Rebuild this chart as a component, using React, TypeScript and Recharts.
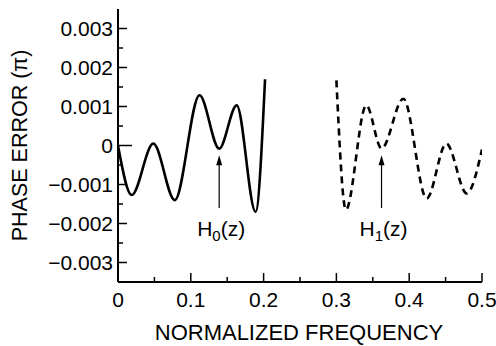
import React from 'react';
import { LineChart, Line, XAxis, YAxis, ReferenceLine } from 'recharts';

// H0(z) phase error (solid)
const h0Freq = [0, 0.0188, 0.0485, 0.078, 0.112, 0.139, 0.163, 0.189, 0.202];
const h0Err = [0, -0.00127, 0.00005, -0.0014, 0.00129, -0.00008, 0.00103, -0.0017, 0.0017];
// H1(z) phase error (dashed)
const h1Freq = [0.3, 0.313, 0.341, 0.362, 0.392, 0.424, 0.451, 0.479, 0.5];
const h1Err = [0.00167, -0.00165, 0.00103, -0.00008, 0.0012, -0.00136, 0.00005, -0.00123, -0.0001];

const xMajorTicks = [0, 0.1, 0.2, 0.3, 0.4, 0.5];
const xTickLabels = ['0', '0.1', '0.2', '0.3', '0.4', '0.5'];
const xMinorTicks = [0.05, 0.15, 0.25, 0.35, 0.45];
const yMajorTicks = [-0.003, -0.002, -0.001, 0, 0.001, 0.002, 0.003];
const yTickLabels = ['\u22120.003', '\u22120.002', '\u22120.001', '0', '0.001', '0.002', '0.003'];
const yMinorTicks = [-0.0025, -0.0015, -0.0005, 0.0005, 0.0015, 0.0025];

// arrow annotations
const arrowFreq = [0.139, 0.362];
const arrowTailErr = [-0.0016, -0.0016];
const arrowHeadErr = [-0.00025, -0.00025];
const arrowSub = ['0', '1'];

const FONT = '"Liberation Sans", Arial, Helvetica, sans-serif';

const h0Data = h0Freq.map((f, i) => ({ f, e: h0Err[i] }));
const h1Data = h1Freq.map((f, i) => ({ f, e: h1Err[i] }));
const xAllTicks = [...xMajorTicks, ...xMinorTicks].sort((a, b) => a - b);
const yAllTicks = [...yMajorTicks, ...yMinorTicks].sort((a, b) => a - b);

const idxOf = (arr: number[], v: number) => arr.findIndex((t) => Math.abs(t - v) < 1e-9);

const BottomTick = (props: any) => {
  const { x, y, payload } = props;
  const i = idxOf(xMajorTicks, payload.value);
  const major = i >= 0;
  return (
    <g>
      <line x1={x} x2={x} y1={y} y2={y - (major ? 9 : 5)} stroke="#000" strokeWidth={1.5} />
      {major && (
        <text x={x} y={y + 25} textAnchor="middle" fontSize={21} fontFamily={FONT} fill="#000">
          {xTickLabels[i]}
        </text>
      )}
    </g>
  );
};

const TopTick = (props: any) => {
  const { x, y, payload } = props;
  const major = idxOf(xMajorTicks, payload.value) >= 0;
  return <line x1={x} x2={x} y1={y} y2={y + (major ? 8 : 5)} stroke="#000" strokeWidth={1.5} />;
};

const LeftTick = (props: any) => {
  const { x, y, payload } = props;
  const i = idxOf(yMajorTicks, payload.value);
  const major = i >= 0;
  const len = payload.value === 0 ? 14 : major ? 9 : 5;
  return (
    <g>
      <line x1={x} x2={x + len} y1={y} y2={y} stroke="#000" strokeWidth={1.5} />
      {major && (
        <text x={x - 5} y={y} dy="0.36em" textAnchor="end" fontSize={21} fontFamily={FONT} fill="#000">
          {yTickLabels[i]}
        </text>
      )}
    </g>
  );
};

const RightTick = (props: any) => {
  const { x, y, payload } = props;
  const major = idxOf(yMajorTicks, payload.value) >= 0;
  const len = payload.value === 0 ? 13 : major ? 8 : 4;
  return <line x1={x} x2={x - len} y1={y} y2={y} stroke="#000" strokeWidth={1.5} />;
};

const makeArrow = (sub: string) => (props: any) => {
  const { x1, y1, x2, y2 } = props;
  return (
    <g>
      <line x1={x1} y1={y1} x2={x2} y2={y2 + 8} stroke="#000" strokeWidth={1.2} />
      <polygon points={`${x2},${y2} ${x2 - 3},${y2 + 10} ${x2 + 3},${y2 + 10}`} fill="#000" />
      <text x={x1 + 2} y={y1 + 28} textAnchor="middle" fontSize={21} fontFamily={FONT} fill="#000">
        <tspan>H</tspan>
        <tspan fontSize={15} dy={5}>{sub}</tspan>
        <tspan dy={-5}>(z)</tspan>
      </text>
    </g>
  );
};

export default function App() {
  return (
    <div>
      <style>{'body{margin:0;background:#fff}'}</style>
      <LineChart width={496} height={346} margin={{ top: 9, right: 14, bottom: 0, left: 0 }}>
        <XAxis
          xAxisId={0}
          dataKey="f"
          type="number"
          domain={[0, 0.5]}
          ticks={xAllTicks}
          interval={0}
          tickSize={0}
          tickMargin={0}
          tickLine={false}
          tick={<BottomTick />}
          height={64}
          axisLine={{ stroke: '#000', strokeWidth: 2 }}
          allowDataOverflow
          label={{
            content: (p: any) => (
              <text
                x={p.viewBox.x + p.viewBox.width / 2 - 1}
                y={p.viewBox.y + 58}
                textAnchor="middle"
                fontSize={22}
                fontFamily={FONT}
                fill="#000"
              >
                NORMALIZED FREQUENCY
              </text>
            ),
          }}
        />
        <XAxis
          xAxisId="top"
          orientation="top"
          type="number"
          domain={[0, 0.5]}
          ticks={xAllTicks}
          interval={0}
          tickSize={0}
          tickMargin={0}
          tickLine={false}
          tick={<TopTick />}
          height={0}
          axisLine={{ stroke: '#000', strokeWidth: 1.5 }}
          allowDataOverflow
        />
        <YAxis
          yAxisId={0}
          type="number"
          domain={[-0.0035, 0.0035]}
          ticks={yAllTicks}
          interval={0}
          tickSize={0}
          tickMargin={0}
          tickLine={false}
          tick={<LeftTick />}
          width={118}
          axisLine={{ stroke: '#000', strokeWidth: 2 }}
          allowDataOverflow
          label={{
            content: (p: any) => {
              const cx = 27;
              const cy = p.viewBox.y + p.viewBox.height / 2;
              return (
                <text
                  x={cx}
                  y={cy}
                  transform={`rotate(-90 ${cx} ${cy})`}
                  textAnchor="middle"
                  fontSize={21.5}
                  fontFamily={FONT}
                  fill="#000"
                >
                  PHASE ERROR (π)
                </text>
              );
            },
          }}
        />
        <YAxis
          yAxisId="right"
          orientation="right"
          type="number"
          domain={[-0.0035, 0.0035]}
          ticks={yAllTicks}
          interval={0}
          tickSize={0}
          tickMargin={0}
          tickLine={false}
          tick={<RightTick />}
          width={0}
          axisLine={{ stroke: '#000', strokeWidth: 2 }}
          allowDataOverflow
        />
        <Line
          data={h0Data}
          dataKey="e"
          type="monotone"
          stroke="#000"
          strokeWidth={2.6}
          dot={false}
          isAnimationActive={false}
        />
        <Line
          data={h1Data}
          dataKey="e"
          type="monotone"
          stroke="#000"
          strokeWidth={2.6}
          strokeDasharray="7 5"
          dot={false}
          isAnimationActive={false}
        />
        {arrowFreq.map((f, i) => (
          <ReferenceLine
            key={i}
            segment={[
              { x: f, y: arrowTailErr[i] },
              { x: f, y: arrowHeadErr[i] },
            ]}
            shape={makeArrow(arrowSub[i])}
          />
        ))}
      </LineChart>
    </div>
  );
}
